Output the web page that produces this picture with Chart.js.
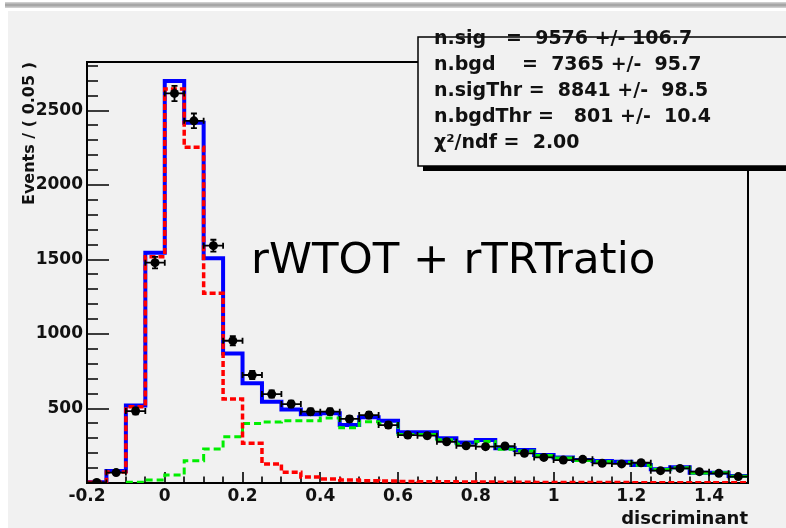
<!DOCTYPE html>
<html>
<head>
<meta charset="utf-8">
<title>discriminant fit</title>
<script src="https://cdn.jsdelivr.net/npm/chart.js@4.4.1/dist/chart.umd.min.js"></script>
<style>
  html, body { margin: 0; padding: 0; background: #ffffff; }
  #wrap { width: 786px; height: 528px; position: relative; }
  canvas { display: block; }
</style>
</head>
<body>
<div id="wrap"><canvas id="c" width="786" height="528"></canvas></div>
<script>
// Bin edges of the discriminant histogram (34 bins of width 0.05)
const binEdges = [-0.2, -0.15, -0.1, -0.05, 0, 0.05, 0.1, 0.15, 0.2, 0.25, 0.3, 0.35, 0.4, 0.45,
  0.5, 0.55, 0.6, 0.65, 0.7, 0.75, 0.8, 0.85, 0.9, 0.95, 1.0, 1.05, 1.1, 1.15, 1.2, 1.25,
  1.3, 1.35, 1.4, 1.45, 1.5];

// Observed events per bin
const dataCounts = [4, 70, 483, 1479, 2615, 2431, 1593, 955, 725, 597, 530, 479, 479, 430,
  456, 389, 322, 318, 277, 250, 244, 248, 199, 172, 154, 159, 132, 128, 136, 83,
  98, 76, 65, 43];

// Total fit (signal + background)
const totalFit = [5, 80, 521, 1546, 2698, 2418, 1508, 870, 669, 546, 494, 461, 468, 389,
  441, 418, 340, 340, 300, 272, 289, 233, 221, 188, 172, 154, 148, 143, 121, 92,
  105, 69, 69, 47];

// Signal component
const signalFit = [5, 74, 512, 1519, 2644, 2253, 1273, 564, 266, 128, 72, 40, 27, 20,
  15, 14, 10, 9, 8, 7, 6, 5, 5, 4, 4, 3, 3, 3, 2, 2,
  2, 2, 1, 1];

// Background component (not drawn in the first two bins)
const backgroundFit = [null, null, 5, 20, 54, 150, 228, 311, 400, 409, 418, 418, 436, 371,
  411, 400, 326, 325, 290, 262, 278, 226, 215, 184, 168, 151, 145, 140, 119, 90,
  103, 67, 68, 46];

// Axis tick labels
const xTickValues = [-0.2, 0, 0.2, 0.4, 0.6, 0.8, 1.0, 1.2, 1.4];
const xTickLabels = ['-0.2', '0', '0.2', '0.4', '0.6', '0.8', '1', '1.2', '1.4'];
const yTickValues = [500, 1000, 1500, 2000, 2500];
const yTickLabels = ['500', '1000', '1500', '2000', '2500'];

// Fit results shown in the statistics box
const fitStats = [
  'n.sig   =  9576 +/- 106.7',
  'n.bgd    =  7365 +/-  95.7',
  'n.sigThr =  8841 +/-  98.5',
  'n.bgdThr =   801 +/-  10.4',
  '\u03C7\u00B2/ndf =  2.00'
];
const plotLabel = 'rWTOT + rTRTratio';

const Y_MAX = 2826;
const PANEL = '#f1f1f1';

function stepPoints(values) {
  const pts = values.map((v, i) => ({ x: binEdges[i], y: v }));
  pts.push({ x: binEdges[values.length], y: values[values.length - 1] });
  return pts;
}
const binCentres = dataCounts.map((_, i) => (binEdges[i] + binEdges[i + 1]) / 2);

Chart.defaults.font.family = '"DejaVu Sans", sans-serif';
Chart.defaults.color = '#000';

// Light grey canvas panel with the thin bar along the top
const panelPlugin = {
  id: 'panel',
  beforeDraw(chart) {
    const ctx = chart.ctx;
    ctx.save();
    ctx.fillStyle = '#ffffff';
    ctx.fillRect(0, 0, chart.width, chart.height);
    const g = ctx.createLinearGradient(0, 2, 0, 8);
    g.addColorStop(0, '#d8d8d8');
    g.addColorStop(0.5, '#9c9c9c');
    g.addColorStop(1, '#d8d8d8');
    ctx.fillStyle = g;
    ctx.fillRect(5, 2, chart.width - 5, 6);
    ctx.fillStyle = PANEL;
    ctx.fillRect(8, 11, chart.width - 8, chart.height - 11);
    ctx.restore();
  }
};

// Frame and inward-pointing tick marks
const framePlugin = {
  id: 'frame',
  beforeDatasetsDraw(chart) {
    const { ctx, chartArea: a, scales: { x, y } } = chart;
    ctx.save();
    ctx.strokeStyle = '#000';
    ctx.lineWidth = 2;
    ctx.strokeRect(a.left, a.top, a.right - a.left, a.bottom - a.top);
    ctx.lineWidth = 1.6;
    ctx.beginPath();
    for (let v = 100; v < Y_MAX; v += 100) {
      const py = Math.round(y.getPixelForValue(v));
      const len = v % 500 === 0 ? 22 : 11;
      ctx.moveTo(a.left, py);
      ctx.lineTo(a.left + len, py);
    }
    for (let i = 1; i < binEdges.length - 1; i++) {
      const px = Math.round(x.getPixelForValue(binEdges[i]));
      const len = i % 4 === 0 ? 11 : 6.5;
      ctx.moveTo(px, a.bottom);
      ctx.lineTo(px, a.bottom - len);
    }
    ctx.stroke();
    ctx.restore();
  }
};

// Error bars on the data points: bin width horizontally, sqrt(N) vertically
const errorBarPlugin = {
  id: 'errorBars',
  afterDatasetsDraw(chart) {
    const { ctx, chartArea: a, scales: { x, y } } = chart;
    ctx.save();
    ctx.beginPath();
    ctx.rect(a.left, a.top, a.right - a.left, a.bottom - a.top);
    ctx.clip();
    ctx.strokeStyle = '#000';
    ctx.lineWidth = 1.8;
    ctx.beginPath();
    dataCounts.forEach((n, i) => {
      const cx = x.getPixelForValue(binCentres[i]);
      const cy = y.getPixelForValue(n);
      const x0 = x.getPixelForValue(binEdges[i]);
      const x1 = x.getPixelForValue(binEdges[i + 1]);
      const err = Math.sqrt(n);
      const yt = y.getPixelForValue(n + err);
      const yb = y.getPixelForValue(Math.max(0, n - err));
      ctx.moveTo(x0, cy); ctx.lineTo(x1, cy);
      ctx.moveTo(x0, cy - 3); ctx.lineTo(x0, cy + 3);
      ctx.moveTo(x1, cy - 3); ctx.lineTo(x1, cy + 3);
      ctx.moveTo(cx, yt); ctx.lineTo(cx, yb);
      ctx.moveTo(cx - 3, yt); ctx.lineTo(cx + 3, yt);
      ctx.moveTo(cx - 3, yb); ctx.lineTo(cx + 3, yb);
    });
    ctx.stroke();
    ctx.restore();
  }
};

// Large label and the fit statistics box
const annotationPlugin = {
  id: 'annotations',
  afterDraw(chart) {
    const ctx = chart.ctx;
    ctx.save();
    ctx.fillStyle = '#000';
    ctx.textBaseline = 'alphabetic';
    ctx.textAlign = 'left';
    ctx.font = '43.5px "DejaVu Sans"';
    ctx.fillText(plotLabel, 251, 273);

    const bx = 418, by = 37, bw = 420, bh = 129;
    ctx.fillStyle = '#000';
    ctx.fillRect(bx + 5, by + 5, bw, bh);
    ctx.fillStyle = PANEL;
    ctx.fillRect(bx, by, bw, bh);
    ctx.strokeStyle = '#000';
    ctx.lineWidth = 1.5;
    ctx.strokeRect(bx, by, bw, bh);

    ctx.fillStyle = '#111';
    ctx.font = 'bold 19px "DejaVu Sans"';
    fitStats.forEach((line, i) => {
      ctx.fillText(line, 434, 44 + i * 26);
    });
    ctx.restore();
  }
};

new Chart(document.getElementById('c'), {
  type: 'scatter',
  data: {
    datasets: [
      {
        label: 'data',
        data: dataCounts.map((n, i) => ({ x: binCentres[i], y: n })),
        pointRadius: 4.5,
        pointBackgroundColor: '#000',
        pointBorderColor: '#000',
        pointBorderWidth: 0,
        showLine: false
      },
      {
        label: 'signal',
        type: 'line',
        data: stepPoints(signalFit),
        stepped: true,
        borderColor: '#ff0000',
        borderWidth: 3.5,
        borderDash: [6, 3],
        pointRadius: 0,
        fill: false
      },
      {
        label: 'background',
        type: 'line',
        data: stepPoints(backgroundFit),
        stepped: true,
        borderColor: '#00ee00',
        borderWidth: 3,
        borderDash: [7, 4],
        pointRadius: 0,
        fill: false,
        spanGaps: false
      },
      {
        label: 'total',
        type: 'line',
        data: stepPoints(totalFit),
        stepped: true,
        borderColor: '#0000ff',
        borderWidth: 4,
        pointRadius: 0,
        fill: false
      }
    ]
  },
  options: {
    responsive: false,
    devicePixelRatio: 1,
    animation: false,
    events: [],
    layout: { padding: { top: 62, right: 38, left: 0, bottom: 0 } },
    plugins: { legend: { display: false }, tooltip: { enabled: false } },
    scales: {
      x: {
        type: 'linear',
        min: -0.2,
        max: 1.5,
        grid: { display: false, drawTicks: false },
        border: { display: false },
        afterBuildTicks: s => { s.ticks = xTickValues.map(v => ({ value: v })); },
        afterFit: s => { s.height = 45; },
        ticks: {
          autoSkip: false,
          maxRotation: 0,
          padding: 3,
          font: { size: 17, weight: 'bold' },
          color: '#111',
          callback: (v, i) => xTickLabels[i]
        },
        title: {
          display: true,
          text: 'discriminant',
          align: 'end',
          padding: 0,
          font: { size: 18, weight: 'bold', lineHeight: 1 },
          color: '#111'
        }
      },
      y: {
        type: 'linear',
        min: 0,
        max: Y_MAX,
        grid: { display: false, drawTicks: false },
        border: { display: false },
        afterBuildTicks: s => { s.ticks = yTickValues.map(v => ({ value: v })); },
        afterFit: s => { s.width = 87; },
        ticks: {
          padding: 4,
          font: { size: 17, weight: 'bold' },
          color: '#111',
          callback: (v, i) => yTickLabels[i]
        },
        title: {
          display: true,
          text: 'Events / ( 0.05 )',
          align: 'end',
          padding: { top: 20 },
          font: { size: 16, weight: 'bold' },
          color: '#111'
        }
      }
    }
  },
  plugins: [panelPlugin, framePlugin, errorBarPlugin, annotationPlugin]
});
</script>
</body>
</html>
